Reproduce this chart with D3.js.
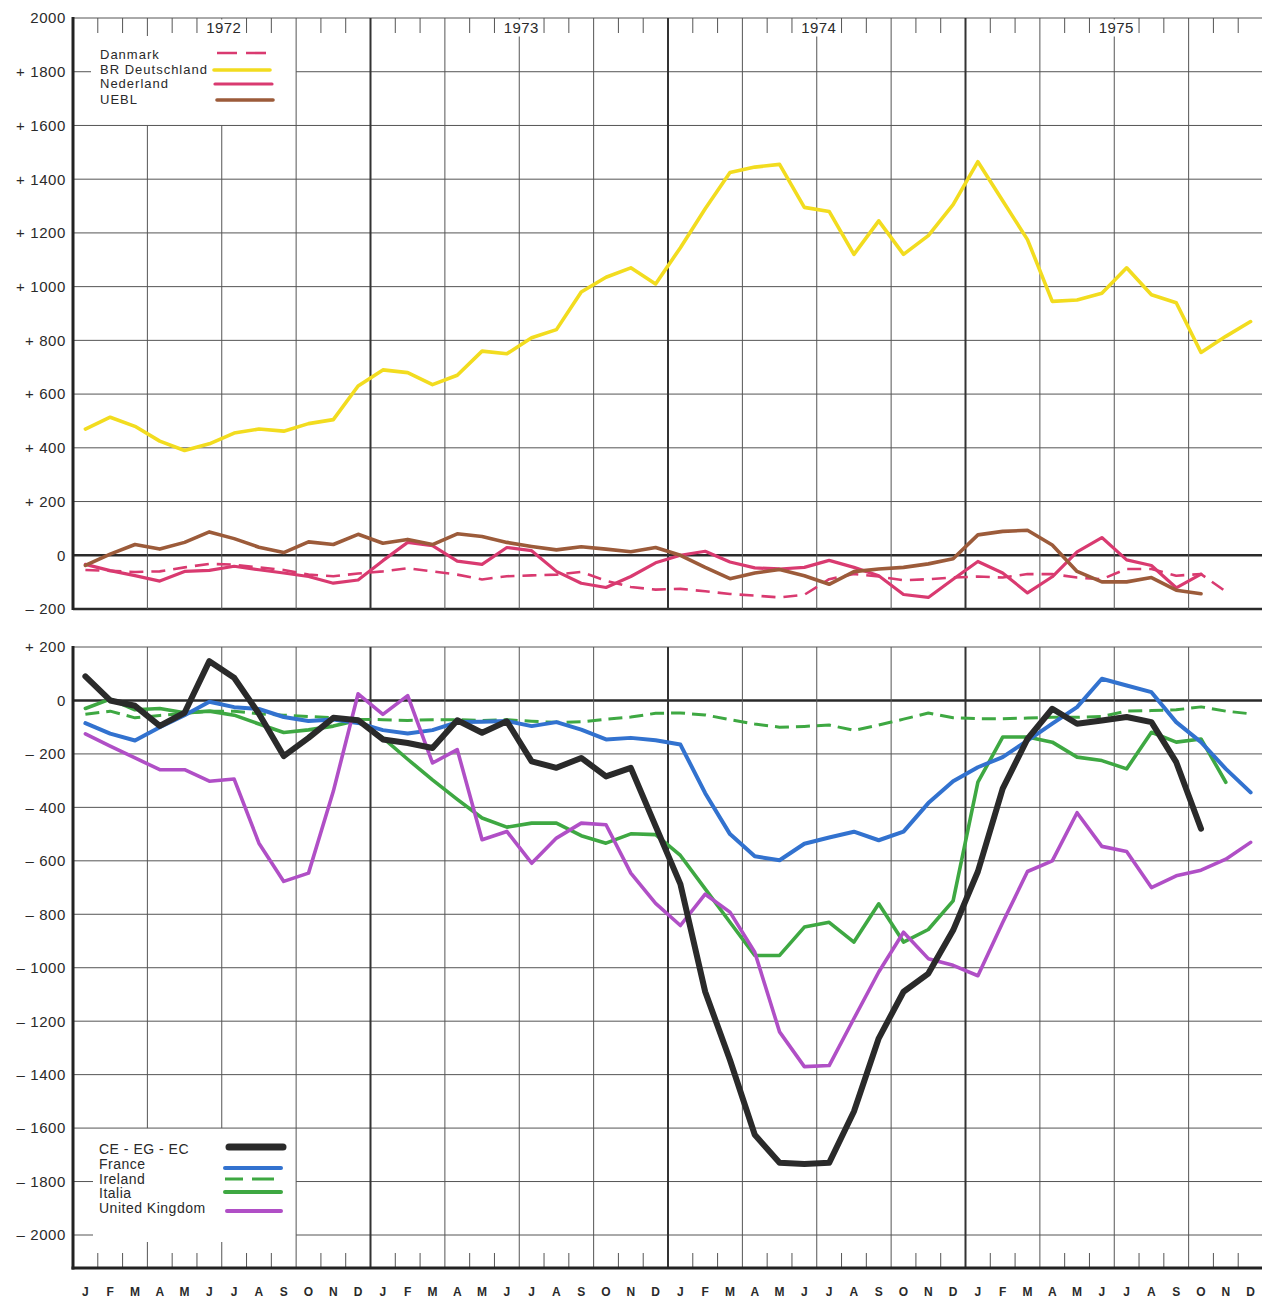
<!DOCTYPE html>
<html><head><meta charset="utf-8">
<script src="https://cdn.jsdelivr.net/npm/d3@7"></script>
<style>
body{margin:0;background:#fff}
svg{display:block}
text{font-family:"Liberation Sans",Arial,Helvetica,sans-serif;fill:#2a2a2a}
</style>
</head><body>
<svg id="chart" width="1262" height="1299"></svg>
<script>
// ---------- data ----------
const monthLetters = ["J","F","M","A","M","J","J","A","S","O","N","D"];
const years = ["1972","1973","1974","1975"];

const topTicks = [-200,0,200,400,600,800,1000,1200,1400,1600,1800,2000];
const topTickLabels = ["– 200","0","+ 200","+ 400","+ 600","+ 800","+ 1000","+ 1200","+ 1400","+ 1600","+ 1800","2000"];
const bottomTicks = [200,0,-200,-400,-600,-800,-1000,-1200,-1400,-1600,-1800,-2000];
const bottomTickLabels = ["+ 200","0","– 200","– 400","– 600","– 800","– 1000","– 1200","– 1400","– 1600","– 1800","– 2000"];

// top panel (monthly, Jan 1972 – Dec 1975)
const deutschland = [470,514,480,425,390,415,455,470,462,490,505,630, 690,680,635,670,760,750,810,840,980,1035,1070,1010, 1145,1290,1425,1445,1455,1295,1280,1120,1245,1120,1190,1305, 1465,1320,1175,945,950,975,1070,970,940,755,815,870];
const danmark = [-55,-58,-62,-60,-45,-32,-35,-45,-55,-72,-78,-68, -60,-48,-60,-72,-90,-78,-75,-72,-62,-95,-118,-128, -125,-134,-144,-150,-157,-147,-89,-70,-79,-93,-89,-83, -79,-83,-70,-70,-83,-89,-51,-51,-76,-70,-135,null];
const nederland = [-34,-57,-76,-96,-60,-56,-41,-54,-66,-79,-104,-92, -20,48,36,-22,-34,29,17,-60,-104,-120,-79,-28, 0,15,-25,-47,-51,-45,-19,-45,-76,-146,-157,-89, -23,-66,-140,-80,13,66,-17,-38,-121,-70,null,null];
const uebl = [-38,4,40,23,48,87,62,30,10,50,40,78, 45,59,40,80,70,48,33,20,32,23,13,29, 0,-45,-87,-66,-53,-76,-108,-61,-51,-45,-32,-13, 76,89,93,38,-60,-99,-99,-83,-130,-143,null,null];

// bottom panel
const ceEgEc = [90,0,-20,-95,-46,147,85,-50,-208,-140,-65,-74, -146,-159,-178,-74,-121,-78,-228,-252,-215,-284,-252,-470, -687,-1090,-1345,-1625,-1730,-1734,-1730,-1538,-1264,-1090,-1022,-860, -640,-330,-144,-31,-87,-75,-62,-81,-231,-480,null,null];
const france = [-85,-124,-150,-100,-55,-5,-25,-32,-62,-77,-71,-84, -111,-124,-111,-81,-80,-77,-96,-81,-109,-146,-140,-149, -165,-347,-500,-583,-598,-536,-513,-491,-523,-491,-384,-302, -250,-212,-150,-87,-25,81,56,31,-81,-156,-256,-344];
const ireland = [-52,-40,-65,-56,-49,-40,-40,-50,-55,-60,-65,-70, -72,-75,-72,-72,-75,-72,-78,-82,-80,-70,-62,-48, -47,-54,-72,-88,-100,-97,-92,-112,-92,-70,-47,-65, -68,-68,-66,-63,-63,-60,-40,-38,-35,-24,-40,-50];
const italia = [-30,5,-35,-30,-46,-40,-55,-88,-120,-110,-96,-74, -140,-220,-297,-370,-440,-474,-459,-459,-506,-534,-499,-502, -580,-705,-830,-954,-954,-848,-830,-904,-761,-904,-857,-750, -306,-137,-137,-156,-212,-225,-256,-119,-156,-144,-306,null];
const unitedKingdom = [-125,-171,-215,-259,-259,-302,-294,-534,-677,-646,-340,25, -52,18,-234,-184,-521,-490,-609,-515,-459,-465,-646,-759, -842,-725,-792,-942,-1240,-1370,-1366,-1190,-1016,-867,-966,-991, -1030,-831,-640,-600,-420,-546,-565,-700,-656,-635,-594,-531];

const topSeries = [
  {name:"Danmark", values:danmark, color:"#d93a70", width:2.6, dash:"14,8"},
  {name:"BR Deutschland", values:deutschland, color:"#f2dc1f", width:3.6, dash:null},
  {name:"Nederland", values:nederland, color:"#d93a70", width:3.2, dash:null},
  {name:"UEBL", values:uebl, color:"#9c5b3a", width:3.6, dash:null}
];
const bottomSeries = [
  {name:"CE - EG - EC", values:ceEgEc, color:"#2a2a2a", width:6, dash:null},
  {name:"France", values:france, color:"#3272cf", width:4, dash:null},
  {name:"Ireland", values:ireland, color:"#3ea842", width:3, dash:"14,7"},
  {name:"Italia", values:italia, color:"#3ea842", width:3.6, dash:null},
  {name:"United Kingdom", values:unitedKingdom, color:"#b04fc6", width:3.6, dash:null}
];

// ---------- layout ----------
const svg = d3.select("#chart");
const W = 1262;
const x = d3.scaleLinear().domain([0,48]).range([73,1263]);
const yT = d3.scaleLinear().domain([-200,2000]).range([609,18]);
const yB = d3.scaleLinear().domain([-2000,200]).range([1235,647]);
const axisY = 1268;
const gridColor = "#555";

const g = svg.append("g");

// ---- top panel grid ----
const legendRight = x(9);
topTicks.forEach(v=>{
  const y = yT(v);
  let sw = 1, col = gridColor;
  if (v===0 || v===-200) { sw = 2.6; col = "#2a2a2a"; }
  if (v===1800) {
    g.append("line").attr("x1",x(0)).attr("x2",x(0)+18).attr("y1",y).attr("y2",y).attr("stroke",col).attr("stroke-width",sw);
    g.append("line").attr("x1",legendRight).attr("x2",W).attr("y1",y).attr("y2",y).attr("stroke",col).attr("stroke-width",sw);
  } else {
    g.append("line").attr("x1",x(0)).attr("x2",W).attr("y1",y).attr("y2",y).attr("stroke",col).attr("stroke-width",sw);
  }
});
for (let m=3; m<48; m+=3){
  const xx = x(m);
  const sw = (m%12===0) ? 2 : 1;
  const col = (m%12===0) ? "#333" : gridColor;
  if (m<9){
    g.append("line").attr("x1",xx).attr("x2",xx).attr("y1",yT(1600)).attr("y2",yT(-200)).attr("stroke",col).attr("stroke-width",sw);
    g.append("line").attr("x1",xx).attr("x2",xx).attr("y1",yT(2000)).attr("y2",yT(2000)+18).attr("stroke",col).attr("stroke-width",sw);
  } else {
    g.append("line").attr("x1",xx).attr("x2",xx).attr("y1",yT(2000)).attr("y2",yT(-200)).attr("stroke",col).attr("stroke-width",sw);
  }
}
for (let m=1; m<48; m++){
  if (m%3===0) continue;
  g.append("line").attr("x1",x(m)).attr("x2",x(m)).attr("y1",yT(2000)).attr("y2",yT(2000)+15).attr("stroke",gridColor).attr("stroke-width",1);
}
g.append("line").attr("x1",x(0)).attr("x2",x(0)).attr("y1",yT(2000)-1).attr("y2",yT(-200)+1).attr("stroke","#222").attr("stroke-width",3);

// ---- bottom panel grid ----
bottomTicks.forEach(v=>{
  const y = yB(v);
  let sw = 1, col = gridColor;
  if (v===0) { sw = 2.6; col = "#2a2a2a"; }
  if (v===-1800 || v===-2000) {
    g.append("line").attr("x1",x(0)).attr("x2",x(0)+20).attr("y1",y).attr("y2",y).attr("stroke",col).attr("stroke-width",sw);
    g.append("line").attr("x1",legendRight).attr("x2",W).attr("y1",y).attr("y2",y).attr("stroke",col).attr("stroke-width",sw);
  } else {
    g.append("line").attr("x1",x(0)).attr("x2",W).attr("y1",y).attr("y2",y).attr("stroke",col).attr("stroke-width",sw);
  }
});
for (let m=3; m<48; m+=3){
  const xx = x(m);
  const sw = (m%12===0) ? 2 : 1;
  const col = (m%12===0) ? "#333" : gridColor;
  if (m<9){
    g.append("line").attr("x1",xx).attr("x2",xx).attr("y1",yB(200)).attr("y2",yB(-1600)).attr("stroke",col).attr("stroke-width",sw);
    g.append("line").attr("x1",xx).attr("x2",xx).attr("y1",axisY).attr("y2",axisY-26).attr("stroke",col).attr("stroke-width",sw);
  } else {
    g.append("line").attr("x1",xx).attr("x2",xx).attr("y1",yB(200)).attr("y2",axisY).attr("stroke",col).attr("stroke-width",sw);
  }
}
for (let m=1; m<48; m++){
  if (m%3===0) continue;
  g.append("line").attr("x1",x(m)).attr("x2",x(m)).attr("y1",axisY).attr("y2",axisY-15).attr("stroke",gridColor).attr("stroke-width",1);
}
g.append("line").attr("x1",x(0)).attr("x2",x(0)).attr("y1",yB(200)-1).attr("y2",axisY+1.5).attr("stroke","#222").attr("stroke-width",3);
g.append("line").attr("x1",x(0)-1.5).attr("x2",W).attr("y1",axisY).attr("y2",axisY).attr("stroke","#222").attr("stroke-width",3);

// ---- axis labels ----
const tl = svg.append("g").attr("font-size",15).attr("letter-spacing",0.6).attr("text-anchor","end");
topTicks.forEach((v,i)=>{
  tl.append("text").attr("x",66).attr("y",yT(v)).attr("dy","0.36em").text(topTickLabels[i]);
});
bottomTicks.forEach((v,i)=>{
  tl.append("text").attr("x",66).attr("y",yB(v)).attr("dy","0.36em").text(bottomTickLabels[i]);
});

// year labels
years.forEach((yr,k)=>{
  const cx = x(12*k+6)+2;
  svg.append("rect").attr("x",cx-19).attr("y",yT(2000)+1.5).attr("width",38).attr("height",17).attr("fill","#fff");
  svg.append("text").attr("x",cx).attr("y",yT(2000)+15).attr("text-anchor","middle").attr("font-size",15).attr("letter-spacing",0.4).text(yr);
});

// month letters
const ml = svg.append("g").attr("font-size",12).attr("text-anchor","middle").attr("font-weight","bold");
for (let m=0; m<48; m++){
  ml.append("text").attr("x",x(m+0.5)).attr("y",1296).attr("fill","#3a3a3a").text(monthLetters[m%12]);
}

// ---- series ----
function drawSeries(list, yScale){
  const line = d3.line()
    .defined(d=>d!==null)
    .x((d,i)=>x(i+0.5))
    .y(d=>yScale(d));
  list.forEach(s=>{
    svg.append("path")
      .attr("d", line(s.values))
      .attr("fill","none")
      .attr("stroke", s.color)
      .attr("stroke-width", s.width)
      .attr("stroke-linejoin","round")
      .attr("stroke-linecap", s.dash ? "butt" : "round")
      .attr("stroke-dasharray", s.dash);
  });
}
// paint order
drawSeries([topSeries[1], topSeries[0], topSeries[2], topSeries[3]], yT);
drawSeries([bottomSeries[2], bottomSeries[3], bottomSeries[1], bottomSeries[4], bottomSeries[0]], yB);

// ---- legends ----
const topLeg = svg.append("g").attr("font-size",13).attr("letter-spacing",1);
const topLegY = [59,74,88,104];
const topLegLine = [[217,268,53],[214,270,70],[215,272,84],[217,273,100]];
topSeries.forEach((s,i)=>{
  topLeg.append("text").attr("x",100).attr("y",topLegY[i]).attr("fill","#333").text(s.name);
  topLeg.append("line").attr("x1",topLegLine[i][0]).attr("x2",topLegLine[i][1])
    .attr("y1",topLegLine[i][2]).attr("y2",topLegLine[i][2])
    .attr("stroke",s.color).attr("stroke-width",s.width)
    .attr("stroke-linecap", s.dash ? "butt":"round")
    .attr("stroke-dasharray", s.dash ? "20,9" : null);
});
const botLeg = svg.append("g").attr("font-size",14).attr("letter-spacing",0.5);
const botLegY = [1154,1169,1184,1198,1213];
const botLegLine = [[229,283,1147,7],[225,281,1168,4],[225,281,1179,3],[225,281,1192,4],[227,281,1211,4]];
bottomSeries.forEach((s,i)=>{
  botLeg.append("text").attr("x",99).attr("y",botLegY[i]).attr("fill","#333").text(s.name);
  botLeg.append("line").attr("x1",botLegLine[i][0]).attr("x2",botLegLine[i][1])
    .attr("y1",botLegLine[i][2]).attr("y2",botLegLine[i][2])
    .attr("stroke",s.color).attr("stroke-width",botLegLine[i][3])
    .attr("stroke-linecap", s.dash ? "butt":"round")
    .attr("stroke-dasharray", s.dash ? "18,9,22,8,3" : null);
});
</script>
</body></html>
